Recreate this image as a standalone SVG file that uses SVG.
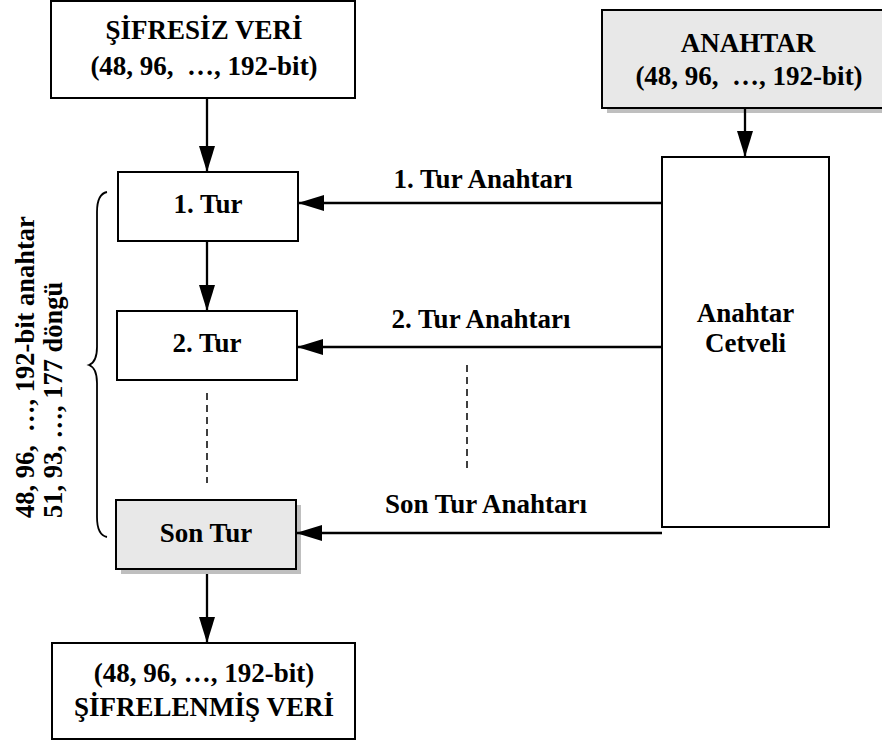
<svg xmlns="http://www.w3.org/2000/svg" width="882" height="744" viewBox="0 0 882 744">
<defs>
<marker id="ah" markerWidth="26" markerHeight="16" refX="26" refY="8" orient="auto" markerUnits="userSpaceOnUse">
<path d="M0,0 L26,8 L0,16 Z" fill="#000"/>
</marker>
</defs>
<style>
.box{fill:#fff;stroke:#000;stroke-width:2}
.gbox{fill:#e8e8e8;stroke:#000;stroke-width:2}
.shadow{fill:#bfbfbf}
.t{font-family:"Liberation Serif","Times New Roman",serif;font-weight:bold;font-size:27px;fill:#000;text-anchor:middle}
.tv{font-family:"Liberation Serif","Times New Roman",serif;font-weight:bold;font-size:26.5px;fill:#000;text-anchor:start}
.c{stroke:#000;stroke-width:2.3;fill:none}
.d{stroke:#000;stroke-width:1.5;stroke-dasharray:7,5;fill:none}
</style>
<rect width="882" height="744" fill="#fff"/>

<g id="plaintext">
<rect class="box" x="51" y="1" width="304" height="97"/>
<text class="t" x="204" y="39">ŞİFRESİZ VERİ</text>
<text class="t" x="204" y="75" xml:space="preserve">(48, 96,  …, 192-bit)</text>
</g>

<g id="key">
<rect class="shadow" x="607" y="15" width="292" height="98"/>
<rect class="gbox" x="602" y="10" width="292" height="98"/>
<text class="t" x="748" y="52">ANAHTAR</text>
<text class="t" x="749" y="85" xml:space="preserve">(48, 96,  …, 192-bit)</text>
</g>

<g id="keyschedule">
<rect class="box" x="662" y="157" width="167" height="370"/>
<text class="t" x="745.5" y="322">Anahtar</text>
<text class="t" x="745.5" y="352">Cetveli</text>
</g>

<g id="round1">
<rect class="box" x="118" y="172" width="180" height="69"/>
<text class="t" x="208" y="213">1. Tur</text>
</g>

<g id="round2">
<rect class="box" x="117" y="311" width="180" height="69"/>
<text class="t" x="207" y="352">2. Tur</text>
</g>

<g id="lastround">
<rect class="shadow" x="121" y="505" width="180" height="69"/>
<rect class="gbox" x="116" y="500" width="180" height="69"/>
<text class="t" x="206" y="542">Son Tur</text>
</g>

<g id="ciphertext">
<rect class="box" x="52" y="643" width="303" height="96"/>
<text class="t" x="204" y="682">(48, 96, …, 192-bit)</text>
<text class="t" x="204" y="716">ŞİFRELENMİŞ VERİ</text>
</g>

<g id="brace-label">
<path d="M107,192 Q97,194 97,212 L97,347 Q97,362 89,365 Q97,368 97,383 L97,517 Q97,535 107,537" fill="none" stroke="#000" stroke-width="1.8"/>
<text class="tv" transform="translate(34,518) rotate(-90)" xml:space="preserve">48, 96,  …, 192-bit anahtar</text>
<text class="tv" transform="translate(62,518) rotate(-90)">51, 93, …, 177 döngü</text>
</g>

<g id="connectors">
<line class="c" x1="207" y1="98" x2="207" y2="172" marker-end="url(#ah)"/>
<line class="c" x1="745" y1="108" x2="745" y2="157" marker-end="url(#ah)"/>
<line class="c" x1="207" y1="241" x2="207" y2="311" marker-end="url(#ah)"/>
<line class="c" x1="207" y1="574" x2="207" y2="643" marker-end="url(#ah)"/>
<line class="c" x1="662" y1="203" x2="298" y2="203" marker-end="url(#ah)"/>
<line class="c" x1="662" y1="347" x2="297" y2="347" marker-end="url(#ah)"/>
<line class="c" x1="662" y1="533" x2="296" y2="533" marker-end="url(#ah)"/>
<line class="d" x1="207" y1="393" x2="207" y2="483"/>
<line class="d" x1="467" y1="365" x2="467" y2="470"/>
<text class="t" x="483" y="188">1. Tur Anahtarı</text>
<text class="t" x="481" y="328">2. Tur Anahtarı</text>
<text class="t" x="486" y="513">Son Tur Anahtarı</text>
</g>
</svg>
